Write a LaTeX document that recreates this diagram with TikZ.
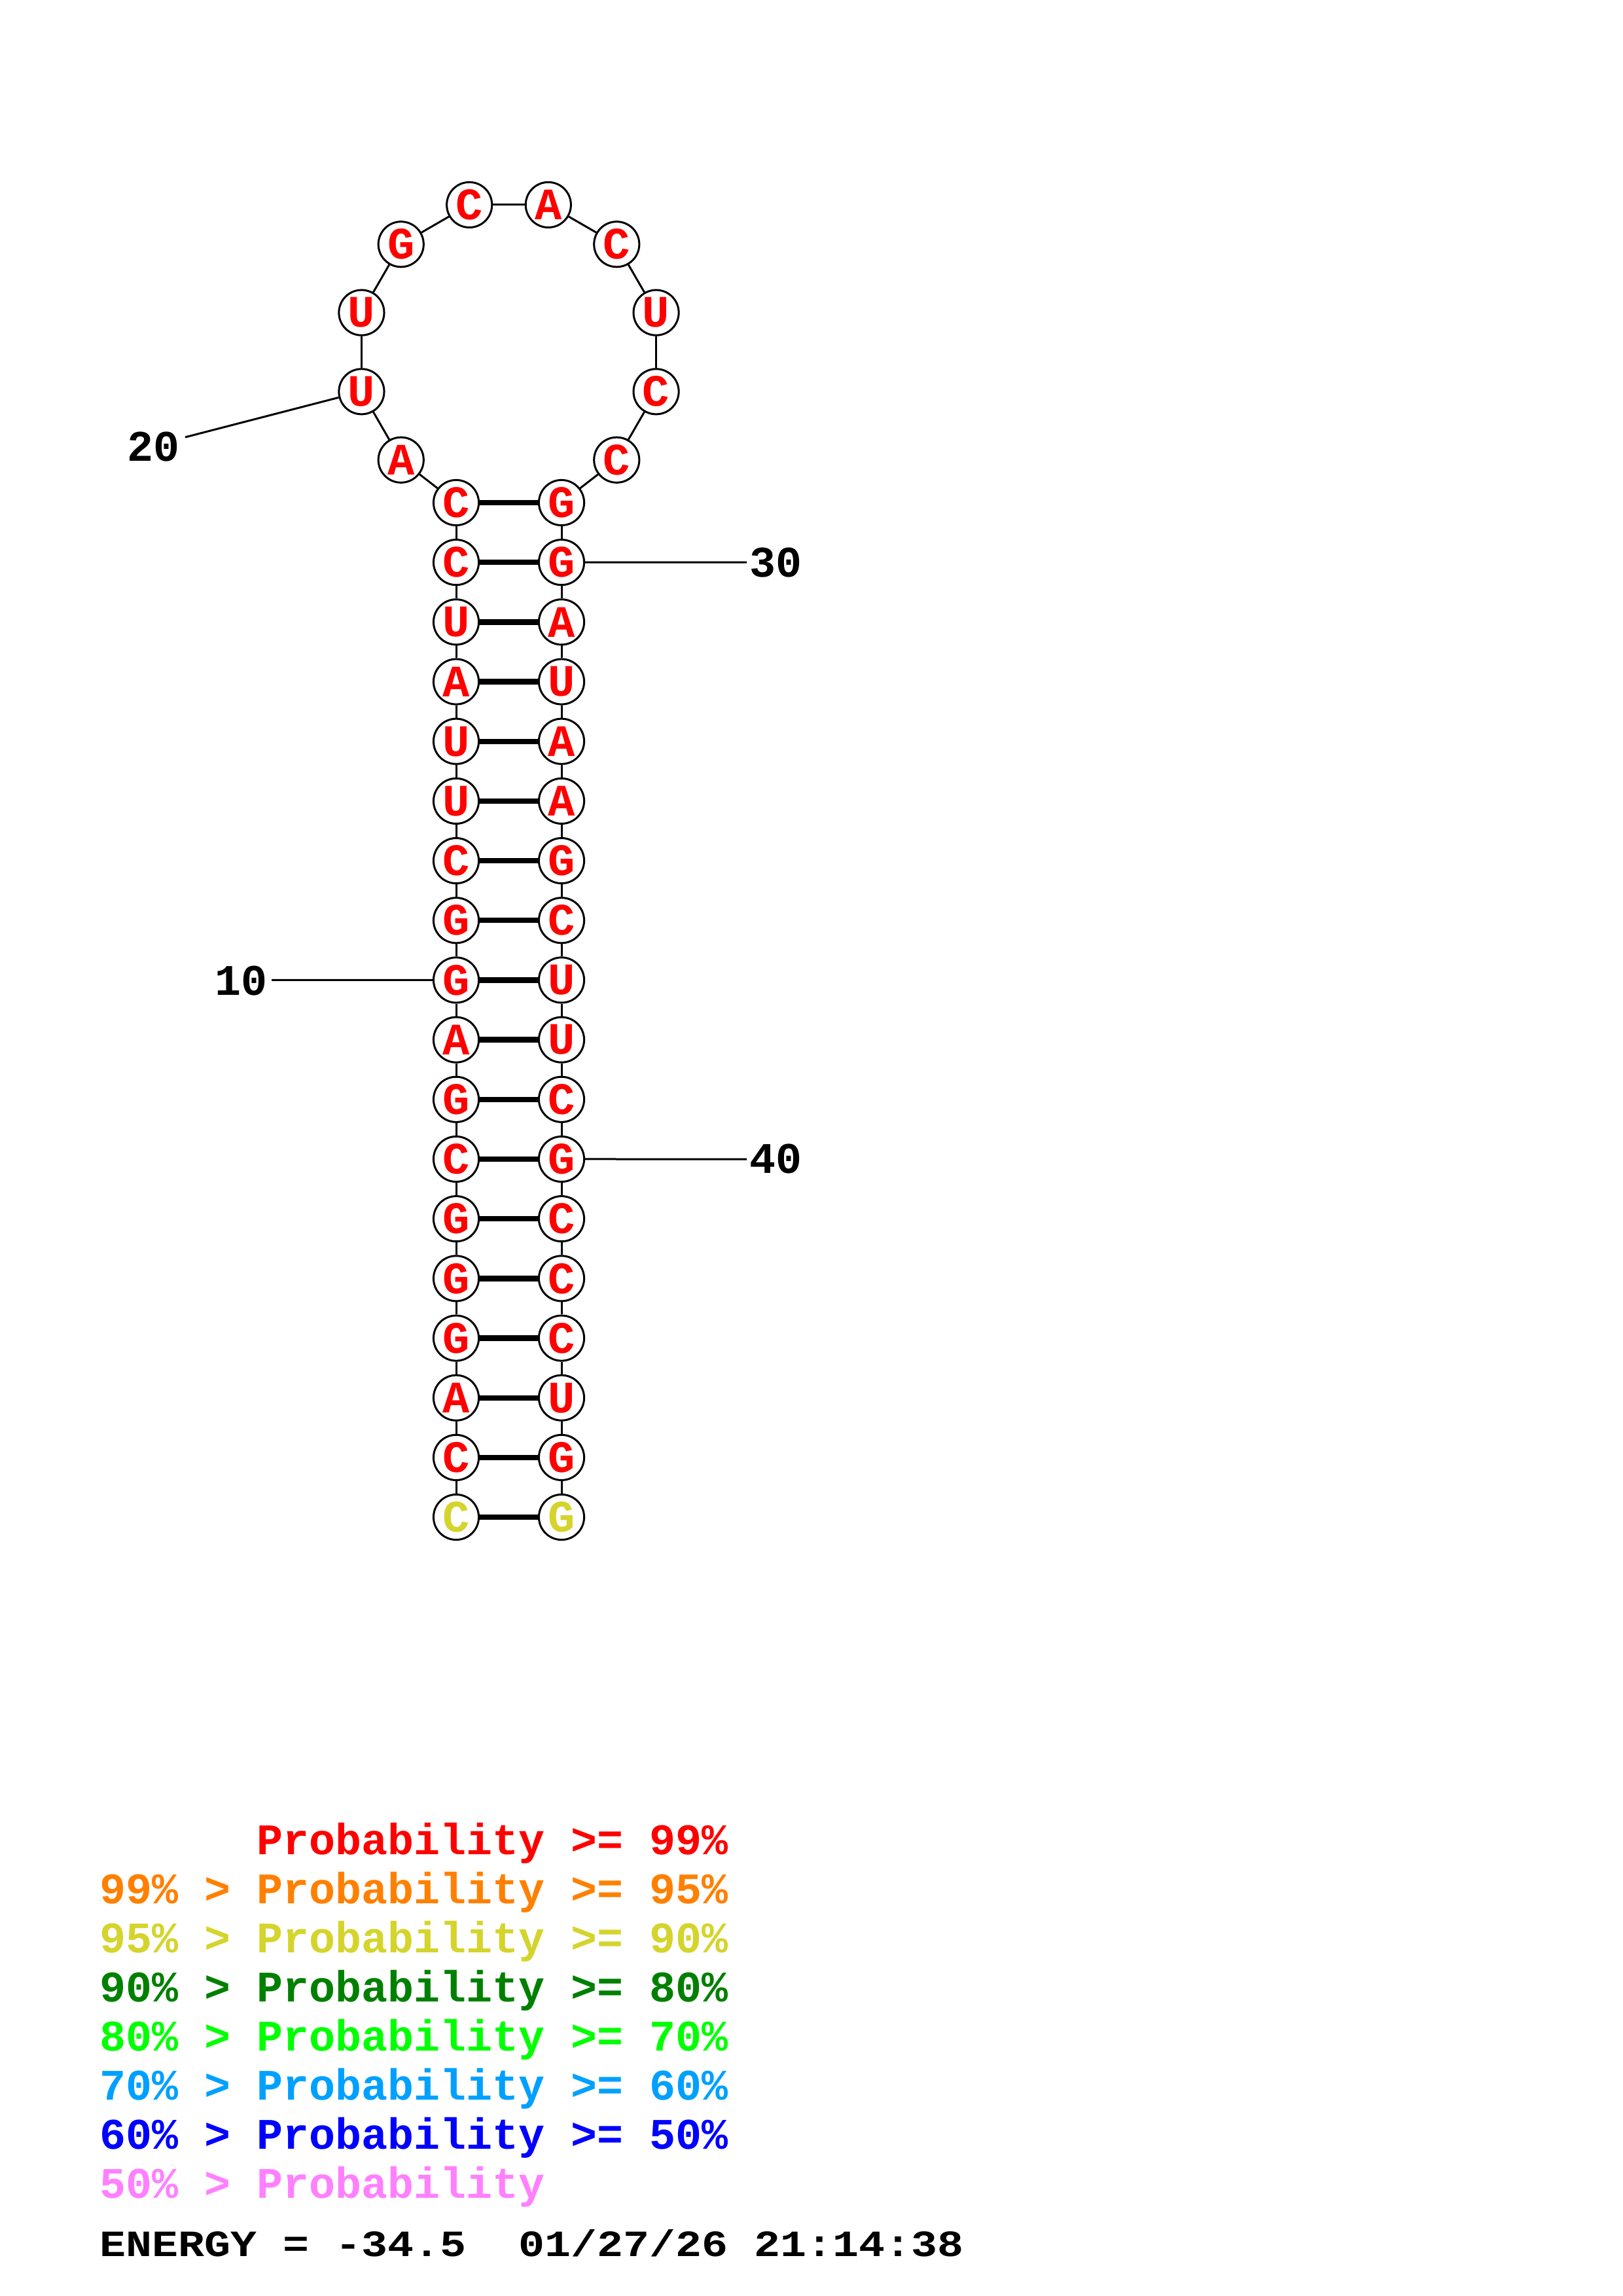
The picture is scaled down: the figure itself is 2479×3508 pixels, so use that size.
\documentclass[tikz,border=0pt]{standalone}
\usepackage{fontspec}
\setmonofont{Liberation Mono}
\definecolor{pred}{RGB}{255,0,0}
\definecolor{porange}{RGB}{255,128,0}
\definecolor{pyellow}{RGB}{212,212,44}
\definecolor{pdgreen}{RGB}{0,128,0}
\definecolor{pgreen}{RGB}{0,255,0}
\definecolor{psky}{RGB}{0,160,255}
\definecolor{pblue}{RGB}{0,0,255}
\definecolor{ppink}{RGB}{255,128,255}
\begin{document}
\begin{tikzpicture}[x=0.24pt,y=-0.24pt,
  nt/.style={circle,draw=black,line width=0.72pt,fill=white,minimum size=16.6pt,inner sep=0pt,
    font=\ttfamily\bfseries\fontsize{16.5}{16.5}\selectfont,text=pred},
  ntY/.style={nt,text=pyellow},
  bb/.style={line width=0.72pt},
  bp/.style={line width=2pt},
  num/.style={font=\ttfamily\bfseries\fontsize{16}{16}\selectfont,inner sep=0pt},
  leg/.style={anchor=base west,inner sep=0pt,font=\ttfamily\bfseries\fontsize{16}{16}\selectfont}]
\useasboundingbox (0,0) rectangle (2479,3508);
% 5' strand of the stem
\node[ntY] (n1) at (697,2318) {C};
\foreach \p/\b in {2/C,3/A,4/G,5/G,6/G,7/C,8/G,9/A,10/G,11/G,12/C,13/U,14/U,15/A,16/U,17/C,18/C}
  \node[nt] (n\p) at (697,{768+91.18*(18-\p)}) {\b};
% hairpin loop
\foreach \p/\b/\a in {19/A/225,20/U/195,21/U/165,22/G/135,23/C/105,24/A/75,25/C/45,26/U/15,27/C/-15,28/C/-45}
  \node[nt] (n\p) at ({777.5+233*cos(\a)},{538-233*sin(\a)}) {\b};
% 3' strand of the stem
\foreach \p/\b in {29/G,30/G,31/A,32/U,33/A,34/A,35/G,36/C,37/U,38/U,39/C,40/G,41/C,42/C,43/C,44/U,45/G}
  \node[nt] (n\p) at (858,{768+91.18*(\p-29)}) {\b};
\node[ntY] (n46) at (858,2318) {G};
% backbone
\foreach \i [evaluate=\i as \j using int(\i+1)] in {1,...,45}
  \draw[bb] (n\i) -- (n\j);
% base pairs
\foreach \i [evaluate=\i as \j using int(47-\i)] in {1,...,18}
  \draw[bp] (n\i) -- (n\j);
% position labels
\node[num] (l20) at (235,683) {20};
\coordinate (e20) at (283,668);
\draw[bb] (e20) -- (n20);
\node[num] (l10) at (369,1499) {10};
\coordinate (e10) at (415,1497.4);
\draw[bb] (e10) -- (n10);
\node[num] (l30) at (1185,859.2) {30};
\coordinate (e30) at (1141,859.2);
\draw[bb] (n30) -- (e30);
\node[num] (l40) at (1185,1771) {40};
\coordinate (e40) at (1141,1771);
\draw[bb] (n40) -- (e40);
% legend
\node[leg,text=pred] (g1) at (152,2833) {~~~~~~Probability~>=~99\%};
\node[leg,text=porange] (g2) at (152,2908) {99\%~>~Probability~>=~95\%};
\node[leg,text=pyellow] (g3) at (152,2983) {95\%~>~Probability~>=~90\%};
\node[leg,text=pdgreen] (g4) at (152,3058) {90\%~>~Probability~>=~80\%};
\node[leg,text=pgreen] (g5) at (152,3133) {80\%~>~Probability~>=~70\%};
\node[leg,text=psky] (g6) at (152,3208) {70\%~>~Probability~>=~60\%};
\node[leg,text=pblue] (g7) at (152,3283) {60\%~>~Probability~>=~50\%};
\node[leg,text=ppink] (g8) at (152,3358) {50\%~>~Probability};
\node[leg] (en) at (152,3447) {\scalebox{1}[0.85]{ENERGY~=~-34.5~~01/27/26~21:14:38}};
\end{tikzpicture}
\end{document}
